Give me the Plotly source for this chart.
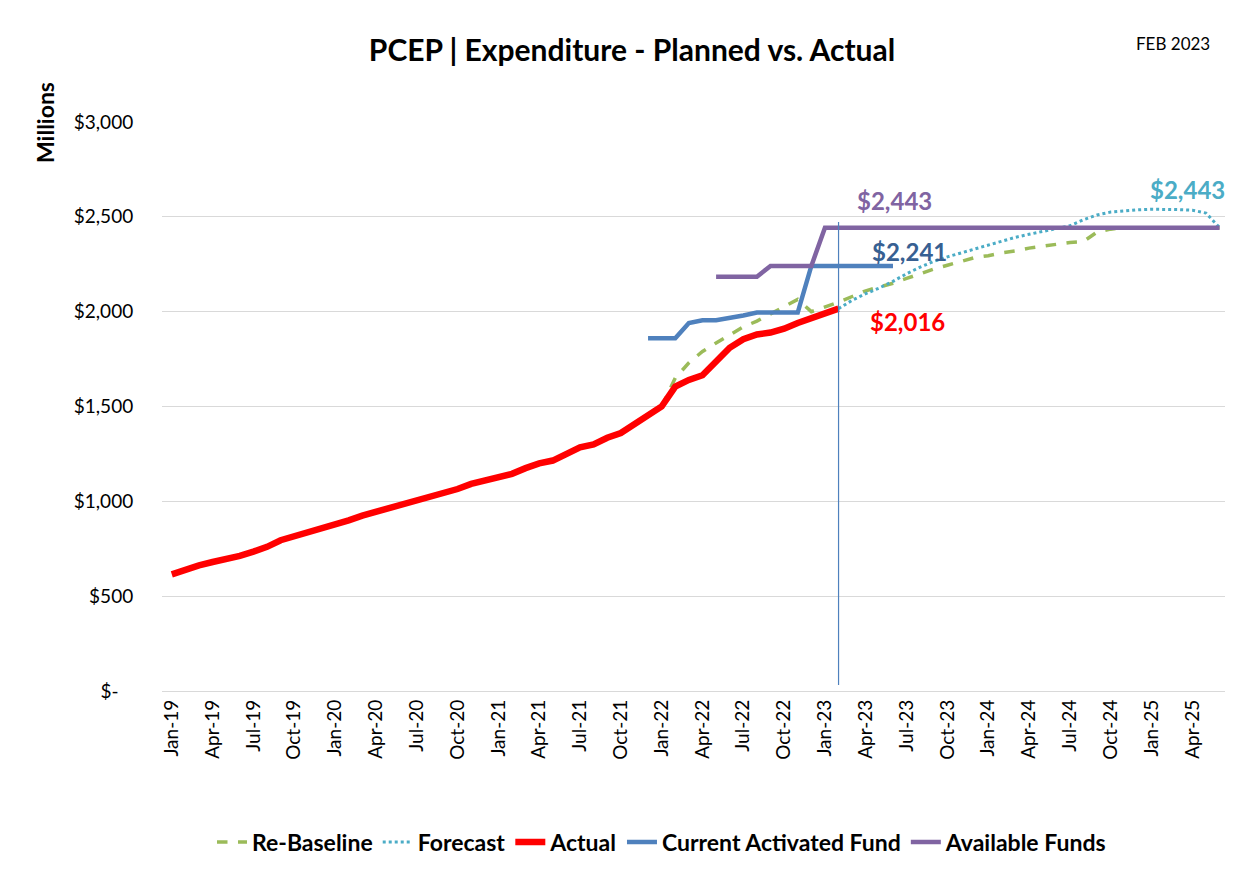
import plotly.graph_objects as go
import pandas as pd

# ---------------- data ----------------
months = [d.strftime("%b-%y") for d in pd.date_range("2019-01-01", "2025-06-01", freq="MS")]

x_tick_labels = ["Jan-19", "Apr-19", "Jul-19", "Oct-19", "Jan-20", "Apr-20", "Jul-20", "Oct-20",
                 "Jan-21", "Apr-21", "Jul-21", "Oct-21", "Jan-22", "Apr-22", "Jul-22", "Oct-22",
                 "Jan-23", "Apr-23", "Jul-23", "Oct-23", "Jan-24", "Apr-24", "Jul-24", "Oct-24",
                 "Jan-25", "Apr-25"]
y_tick_values = [0, 500, 1000, 1500, 2000, 2500, 3000]
y_tick_labels = ["$-\u00a0\u00a0\u00a0", "$500", "$1,000", "$1,500", "$2,000", "$2,500", "$3,000"]

report_month = "Feb-23"

actual_start = "Jan-19"
actual = [615, 640, 662, 680, 695, 712, 735, 760, 795, 815,
          835, 858, 880, 900, 925, 945, 960, 980, 1000, 1020,
          1045, 1065, 1092, 1112, 1125, 1145, 1175, 1200, 1215, 1250,
          1285, 1300, 1335, 1360, 1405, 1450, 1500, 1605, 1640, 1665,
          1735, 1810, 1855, 1880, 1890, 1910, 1940, 1965, 1990, 2016]

rebaseline_start = "Jan-22"
rebaseline = [1500, 1650, 1730, 1790, 1835, 1880, 1920, 1950, 1990, 2030,
              2065, 2000, 2025, 2050, 2080, 2110, 2130, 2150, 2175, 2200,
              2225, 2245, 2265, 2285, 2295, 2310, 2320, 2335, 2345, 2355,
              2365, 2370, 2420, 2435, 2443, 2443, 2443, 2443, 2443, 2443,
              2443, 2443]

forecast_start = "Feb-23"
forecast = [2016, 2060, 2095, 2125, 2160, 2200, 2235, 2265, 2289, 2310,
            2330, 2350, 2372, 2392, 2408, 2422, 2437, 2453, 2485, 2510,
            2525, 2532, 2537, 2540, 2540, 2538, 2535, 2520, 2443]

activated_start = "Dec-21"
activated = [1860, 1860, 1860, 1940, 1955, 1955, 1965, 1980, 1995, 1995,
             1995, 1995, 2241, 2241, 2241, 2241, 2241, 2241, 2241]

available_start = "May-22"
available = [2184, 2184, 2184, 2184, 2241, 2241, 2241, 2241] + [2443] * 30


def xs(start, vals):
    i = months.index(start)
    return months[i:i + len(vals)]


FONT = "Lato"
GREEN = "#9BBB59"
CYAN = "#4BACC6"
RED = "#FF0000"
BLUE = "#4F81BD"
PURPLE = "#8064A2"

# figure sits inside the page's 8px body margin
W, H = 1249, 870
OFF = 8
L, R, T, B = 154, 32, 114, 187
PW, PH = W - L - R, H - T - B


def px(xpix):
    return (xpix - OFF - L) / PW


def py(ypix):
    return (OFF + T + PH - ypix) / PH


fig = go.Figure()

fig.add_trace(go.Scatter(x=xs(rebaseline_start, rebaseline), y=rebaseline, mode="lines",
                         name="Re-Baseline", line=dict(color=GREEN, width=3.5, dash="dash")))
fig.add_trace(go.Scatter(x=xs(forecast_start, forecast), y=forecast, mode="lines",
                         name="Forecast", line=dict(color=CYAN, width=3, dash="dot")))
fig.add_trace(go.Scatter(x=xs(actual_start, actual), y=actual, mode="lines",
                         name="Actual", line=dict(color=RED, width=6.5)))
fig.add_trace(go.Scatter(x=xs(activated_start, activated), y=activated, mode="lines",
                         name="Current Activated Fund", line=dict(color=BLUE, width=4.5)))
fig.add_trace(go.Scatter(x=xs(available_start, available), y=available, mode="lines",
                         name="Available Funds", line=dict(color=PURPLE, width=4.5)))

# report-month marker line
ri = months.index(report_month)
fig.add_shape(type="line", xref="x", yref="paper", x0=ri, x1=ri, y0=py(685), y1=py(222),
              line=dict(color=BLUE, width=1.2))

ann_font = dict(family=FONT, size=24)
annotations = [
    dict(x=report_month, y=available[-1], text=f"<b>${available[-1]:,}</b>", xanchor="left",
         yanchor="middle", xshift=16, yshift=27, font=dict(color=PURPLE, **ann_font)),
    dict(x=xs(activated_start, activated)[-1], y=activated[-1], text=f"<b>${activated[-1]:,}</b>",
         xanchor="center", yanchor="middle", xshift=17, yshift=14,
         font=dict(color="#376092", **ann_font)),
    dict(x=xs(actual_start, actual)[-1], y=actual[-1], text=f"<b>${actual[-1]:,}</b>",
         xanchor="left", yanchor="middle", xshift=29, yshift=-13,
         font=dict(color=RED, **ann_font)),
    dict(x=xs(forecast_start, forecast)[-1], y=forecast[-1], text=f"<b>${forecast[-1]:,}</b>",
         xanchor="center", yanchor="middle", xshift=-32, yshift=38,
         font=dict(color=CYAN, **ann_font)),
    dict(xref="paper", yref="paper", x=px(45), y=py(123),
         text="<b>Millions</b>", textangle=-90, showarrow=False, xanchor="center",
         yanchor="middle", font=dict(family=FONT, size=23, color="#000000")),
    dict(xref="paper", yref="paper", x=px(1173), y=py(43),
         text="FEB 2023", showarrow=False, xanchor="center", yanchor="middle",
         font=dict(family=FONT, size=17, color="#000000")),
]
for a in annotations:
    a.setdefault("showarrow", False)
    fig.add_annotation(**a)

fig.update_layout(
    width=W, height=H,
    margin=dict(l=L, r=R, t=T, b=B),
    paper_bgcolor="white", plot_bgcolor="white",
    font=dict(family=FONT, color="#000000"),
    title=dict(text="<b>PCEP | Expenditure - Planned vs. Actual</b>", x=(632 - OFF) / W,
               xanchor="center", y=1 - (50 - OFF) / H, yanchor="middle",
               font=dict(family=FONT, size=30, color="#000000")),
    showlegend=True,
    legend=dict(orientation="h", x=px(662), xanchor="center", y=py(842),
                yanchor="middle", font=dict(family=FONT, size=23, color="#000000",
                                            weight="bold"),
                itemwidth=30, bgcolor="rgba(0,0,0,0)"),
    xaxis=dict(type="category", categoryorder="array", categoryarray=months,
               range=[-0.72, 77.4], tickmode="array", tickvals=x_tick_labels,
               ticktext=x_tick_labels, tickangle=-90, showgrid=False, zeroline=False,
               showline=True, linecolor="#D9D9D9", linewidth=1.3, ticks="",
               tickfont=dict(family=FONT, size=19, color="#000000"),
               automargin=False),
    yaxis=dict(range=[0, 3000], tickmode="array", tickvals=y_tick_values,
               ticktext=y_tick_labels, showgrid=True, gridcolor="#D9D9D9", gridwidth=1.3,
               zeroline=False, showline=False, ticks="outside", ticklen=24,
               tickcolor="rgba(0,0,0,0)", tickfont=dict(family=FONT, size=19, color="#000000"),
               automargin=False),
)

fig.write_html("out.html")
